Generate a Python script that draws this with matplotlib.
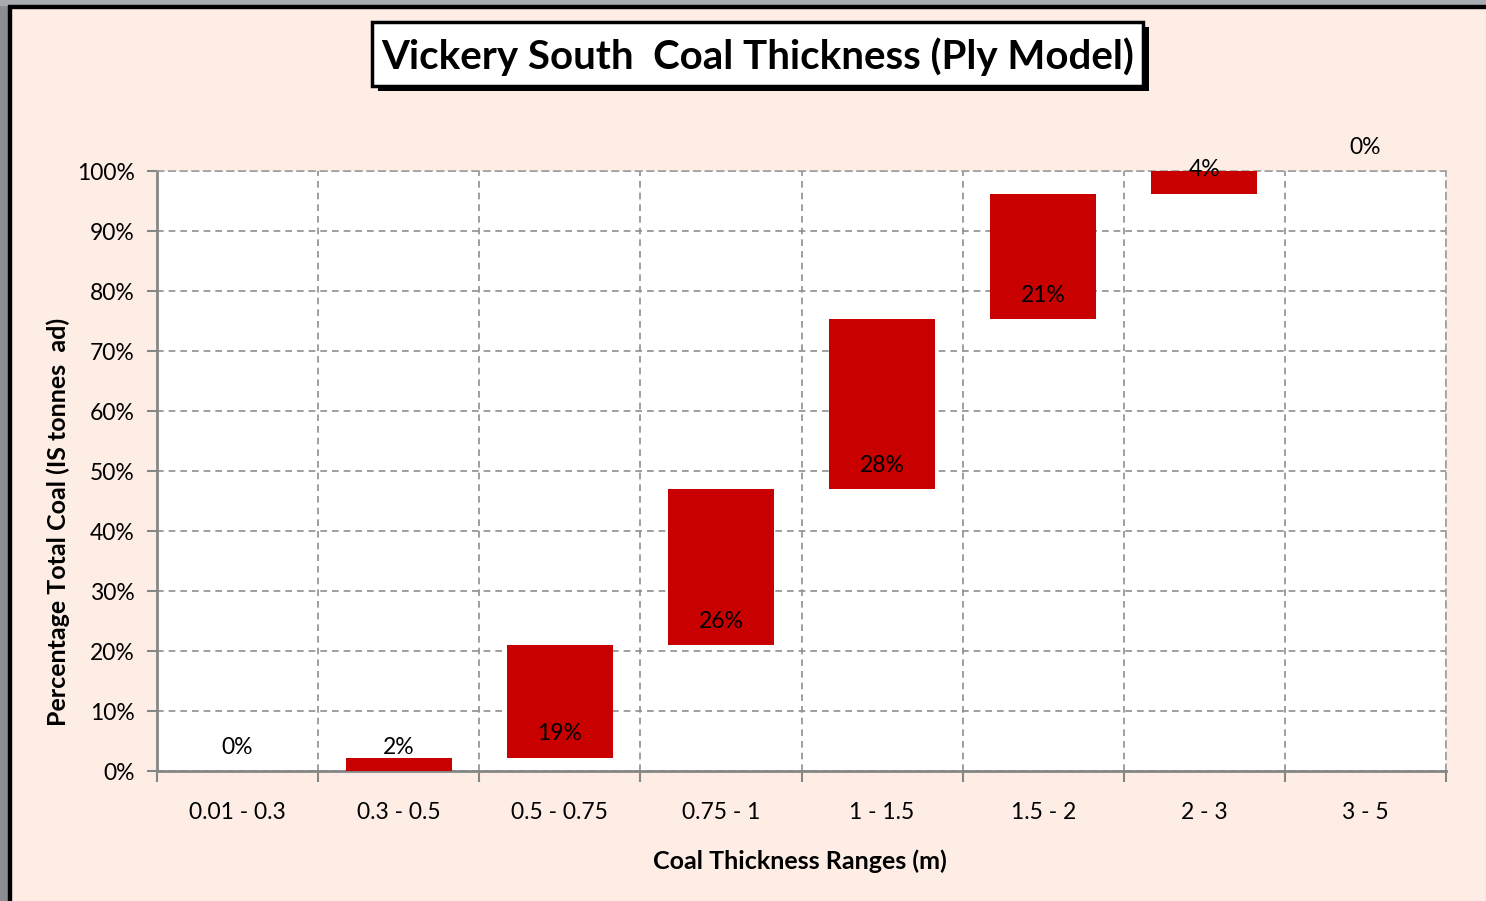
import matplotlib
matplotlib.use("Agg")
import matplotlib.pyplot as plt
from matplotlib.patches import Rectangle
import numpy as np

categories = ["0.01 - 0.3", "0.3 - 0.5", "0.5 - 0.75", "0.75 - 1", "1 - 1.5", "1.5 - 2", "2 - 3", "3 - 5"]
values = [0.0, 2.2, 18.8, 26.0, 28.3, 20.9, 3.8, 0.0]
value_labels = ["0%", "2%", "19%", "26%", "28%", "21%", "4%", "0%"]
y_ticks = [0, 10, 20, 30, 40, 50, 60, 70, 80, 90, 100]

W, H = 1486, 901
fig = plt.figure(figsize=(W / 100, H / 100), dpi=100)
bg = "#FDEDE5"
fig.patch.set_facecolor(bg)
FONT = "Lato"

def px(x, y):
    return x / W, 1 - y / H

# frame
fig.patches.append(Rectangle((0, 0), 8 / W, 1, transform=fig.transFigure, color="#8A8D91", zorder=0))
fig.patches.append(Rectangle((8 / W, 0), 3 / W, 1 - 8 / H, transform=fig.transFigure, color="#000000", zorder=0))
fig.patches.append(Rectangle((0, 1 - 5 / H), 1, 5 / H, transform=fig.transFigure, color="#A8ABAF", zorder=0))
fig.patches.append(Rectangle((8 / W, 1 - 8 / H), 1, 3 / H, transform=fig.transFigure, color="#000000", zorder=0))

ax = fig.add_axes([157 / W, 1 - 771 / H, (1446 - 157) / W, 600 / H])
ax.set_facecolor("white")

n = len(categories)
x = np.arange(n)
bottoms = np.concatenate([[0], np.cumsum(values)[:-1]])
ax.bar(x, values, bottom=bottoms, width=0.66, color="#C80000", zorder=3)
for xi, b, lab in zip(x, bottoms, value_labels):
    ax.text(xi, b + 4.0, lab, ha="center", va="center", fontsize=16.5, family=FONT,
            color="black", zorder=4, clip_on=False)

ax.set_xlim(-0.5, n - 0.5)
ax.set_ylim(0, 100)
ax.set_yticks(y_ticks)
ax.set_yticklabels([f"{t}%" for t in y_ticks], fontsize=16.5, family=FONT)
ax.set_xticks(x)
ax.set_xticklabels(categories, fontsize=16.5, family=FONT)
ax.tick_params(axis="x", length=0, pad=22)
ax.set_xticks(np.arange(n + 1) - 0.5, minor=True)
ax.tick_params(axis="x", which="minor", length=8, color="#868686", width=1.5)
ax.tick_params(axis="y", length=7, color="#868686", width=1.5, pad=9)
ax.grid(True, axis="y", which="major", linestyle=(0, (4, 3)), color="#8F8F8F", linewidth=1.2, zorder=1)
ax.grid(True, axis="x", which="minor", linestyle=(0, (4, 3)), color="#8F8F8F", linewidth=1.2, zorder=1)
for s in ["left", "bottom"]:
    ax.spines[s].set_color("#868686")
    ax.spines[s].set_linewidth(2)
for s in ["top", "right"]:
    ax.spines[s].set_color("#A0A0A0")
    ax.spines[s].set_linewidth(1.2)
    ax.spines[s].set_linestyle((0, (4, 3)))

# title box with shadow
tx0, ty0, tx1, ty1 = 372, 22, 1143, 86
fig.patches.append(Rectangle(px(tx0 + 6, ty1 + 5), (tx1 - tx0) / W, (ty1 - ty0) / H,
                             transform=fig.transFigure, facecolor="black", edgecolor="none", zorder=5))
fig.patches.append(Rectangle(px(tx0, ty1), (tx1 - tx0) / W, (ty1 - ty0) / H,
                             transform=fig.transFigure, facecolor="white", edgecolor="black",
                             linewidth=2.5, zorder=6))
fig.text(*px((tx0 + tx1) / 2, 57), "Vickery South  Coal Thickness (Ply Model)", ha="center", va="center",
         fontsize=29, fontweight="bold", family=FONT, zorder=7)

fig.text(*px(58, 522), "Percentage Total Coal (IS tonnes  ad)", rotation=90, ha="center", va="center",
         fontsize=18, fontweight="bold", family=FONT)
fig.text(*px(800, 861), "Coal Thickness Ranges (m)", ha="center", va="center",
         fontsize=18, fontweight="bold", family=FONT)

fig.savefig("out.png", dpi=100, facecolor=bg)
